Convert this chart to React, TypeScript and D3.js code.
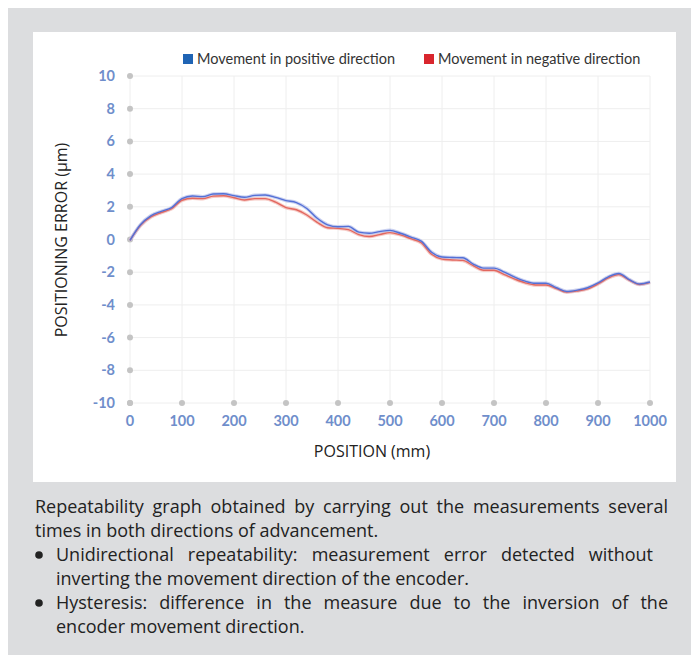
import React, { useEffect, useRef } from 'react';
import * as d3 from 'd3';

const positions = [0, 20, 40, 60, 80, 100, 120, 140, 160, 180, 200, 220, 240, 260, 280, 300, 320, 340, 360, 380,
  400, 420, 440, 460, 480, 500, 520, 540, 560, 580, 600, 620, 640, 660, 680, 700, 720, 740, 760, 780,
  800, 820, 840, 860, 880, 900, 920, 940, 960, 980, 1000];

const positiveRun = [-0.05, 0.9, 1.45, 1.72, 1.95, 2.5, 2.66, 2.62, 2.78, 2.8, 2.68, 2.58, 2.7, 2.72, 2.58, 2.38, 2.26, 1.9, 1.3, 0.9,
  0.78, 0.8, 0.45, 0.38, 0.48, 0.56, 0.38, 0.15, -0.1, -0.78, -1.07, -1.1, -1.12, -1.5, -1.75, -1.75, -2.0, -2.3, -2.55, -2.68,
  -2.68, -2.95, -3.18, -3.1, -2.95, -2.66, -2.28, -2.08, -2.45, -2.72, -2.6];

const negativeRun = [-0.05, 0.85, 1.38, 1.65, 1.88, 2.4, 2.52, 2.5, 2.65, 2.68, 2.55, 2.42, 2.5, 2.5, 2.28, 1.95, 1.82, 1.5, 1.05, 0.72,
  0.68, 0.6, 0.3, 0.18, 0.3, 0.42, 0.28, 0.05, -0.2, -0.9, -1.2, -1.25, -1.28, -1.6, -1.88, -1.88, -2.15, -2.42, -2.65, -2.78,
  -2.78, -3.0, -3.22, -3.15, -3.02, -2.72, -2.35, -2.15, -2.48, -2.75, -2.62];

const xTicks = [0, 100, 200, 300, 400, 500, 600, 700, 800, 900, 1000];
const yTicks = [10, 8, 6, 4, 2, 0, -2, -4, -6, -8, -10];

const legendLabels = ['Movement in positive direction', 'Movement in negative direction'];

const captionLines = [
  { text: 'Repeatability graph obtained by carrying out the measurements several', bullet: false, indent: false, right: 668 },
  { text: 'times in both directions of advancement.', bullet: false, indent: false, right: 0 },
  { text: 'Unidirectional repeatability: measurement error detected without', bullet: true, indent: true, right: 653 },
  { text: 'inverting the movement direction of the encoder.', bullet: false, indent: true, right: 0 },
  { text: 'Hysteresis: difference in the measure due to the inversion of the', bullet: true, indent: true, right: 668 },
  { text: 'encoder movement direction.', bullet: false, indent: true, right: 0 },
];

const FONT = 'Lato, "Open Sans", sans-serif';
const FONT2 = '"Open Sans", sans-serif';
const tickBlue = '#6f8ecb';

export default function App() {
  const captionRef = useRef<SVGGElement>(null);

  const x = d3.scaleLinear().domain([0, 1000]).range([130, 650]);
  const y = d3.scaleLinear().domain([-10, 10]).range([403, 76]);

  const line = d3.line<number>()
    .x((d, i) => x(positions[i]))
    .y(d => y(d))
    .curve(d3.curveMonotoneX);

  // justify the full caption lines by spreading the words
  useEffect(() => {
    const g = captionRef.current;
    if (!g) return;
    d3.select(g).selectAll<SVGTextElement, unknown>('text.justify').each(function () {
      const el = this;
      el.setAttribute('word-spacing', '0');
      const target = +(el.getAttribute('data-width') || 0);
      const w = el.getComputedTextLength();
      const spaces = (el.textContent || '').split(' ').length - 1;
      if (spaces > 0 && target > w) el.setAttribute('word-spacing', String((target - w) / spaces));
    });
  }, []);

  return (
    <svg width={691} height={647} style={{ display: 'block' }}>
      <g transform="translate(-8,-8)">
        <rect x={8} y={8} width={691} height={647} fill="#dcdddf" />
        <rect x={33} y={32} width={643} height={450} fill="#ffffff" />

        {/* grid */}
        {xTicks.map(t => (
          <line key={'gx' + t} x1={x(t)} x2={x(t)} y1={y(10)} y2={y(-10)} stroke="#eeeeee" strokeWidth={1} />
        ))}
        {yTicks.map(t => (
          <line key={'gy' + t} x1={x(0)} x2={x(1000)} y1={y(t)} y2={y(t)} stroke="#eeeeee" strokeWidth={1} />
        ))}

        {/* axis dots */}
        {yTicks.map(t => (
          <circle key={'dy' + t} cx={x(0)} cy={y(t)} r={3} fill="#c4c4c4" />
        ))}
        {xTicks.map(t => (
          <circle key={'dx' + t} cx={x(t)} cy={y(-10)} r={3} fill="#c4c4c4" />
        ))}

        {/* tick labels */}
        {yTicks.map(t => (
          <text key={'ly' + t} x={115} y={y(t)} dy="0.35em" textAnchor="end" fontFamily={FONT}
            fontWeight="bold" fontSize={14.5} fill={tickBlue}>{t}</text>
        ))}
        {xTicks.map(t => (
          <text key={'lx' + t} x={x(t)} y={426} textAnchor="middle" fontFamily={FONT}
            fontWeight="bold" fontSize={14.5} fill={tickBlue}>{t}</text>
        ))}

        {/* series: halo for the repeated runs, then the main line */}
        <path d={line(negativeRun) || ''} fill="none" stroke="#f2b3ad" strokeWidth={3.5} strokeOpacity={0.7} />
        <path d={line(positiveRun) || ''} fill="none" stroke="#b3bde9" strokeWidth={3.5} strokeOpacity={0.7} />
        <path d={line(negativeRun) || ''} fill="none" stroke="#e2675f" strokeWidth={1.4} />
        <path d={line(positiveRun) || ''} fill="none" stroke="#5470d6" strokeWidth={1.4} />

        {/* axis titles */}
        <text transform="translate(67,240) rotate(-90)" textAnchor="middle" fontFamily={FONT2}
          fontSize={16} fill="#222">POSITIONING ERROR (µm)</text>
        <text x={372} y={457} textAnchor="middle" fontFamily={FONT2} fontSize={16} fill="#222">POSITION (mm)</text>

        {/* legend */}
        <rect x={183} y={54} width={10} height={10} fill="#1f64b4" />
        <text x={197} y={64} fontFamily={FONT} fontSize={14.5} fill="#333">{legendLabels[0]}</text>
        <rect x={424} y={54} width={10} height={10} fill="#d9262e" />
        <text x={438} y={64} fontFamily={FONT} fontSize={14.5} fill="#333">{legendLabels[1]}</text>

        {/* caption */}
        <g ref={captionRef}>
          {captionLines.map((l, i) => {
            const left = l.indent ? 56 : 35;
            return (
              <g key={'c' + i}>
                {l.bullet && <circle cx={39} cy={513 + i * 24 - 6} r={3.8} fill="#222" />}
                <text className={l.right ? 'justify' : ''}
                  data-width={l.right - left}
                  x={left} y={513 + i * 24}
                  fontFamily={FONT2} fontSize={18} fill="#222">{l.text}</text>
              </g>
            );
          })}
        </g>
      </g>
    </svg>
  );
}
